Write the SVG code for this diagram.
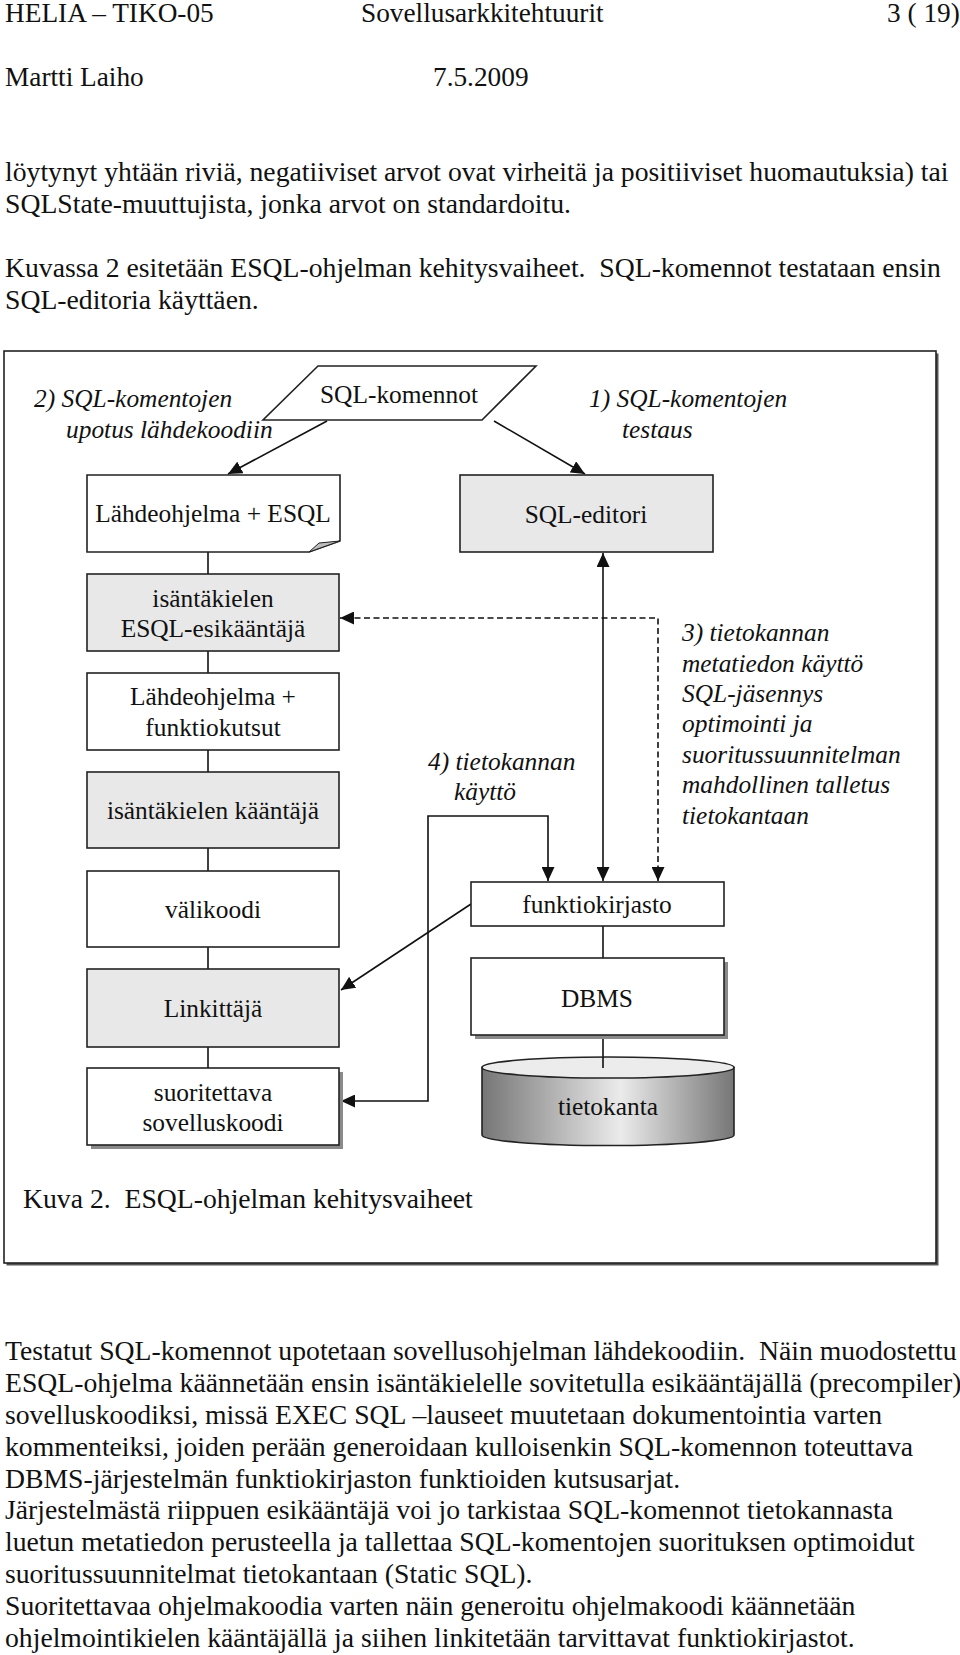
<svg xmlns="http://www.w3.org/2000/svg" width="960" height="1655" viewBox="0 0 960 1655">
<style>
.t{font-family:"Liberation Serif","Times New Roman",serif;font-size:27.3px;fill:#111}
.b{font-family:"Liberation Serif","Times New Roman",serif;font-size:27.7px;fill:#111}
.d{font-family:"Liberation Serif","Times New Roman",serif;font-size:25.4px;fill:#111}
.di{font-family:"Liberation Serif","Times New Roman",serif;font-size:25.4px;font-style:italic;fill:#111}
.c{text-anchor:middle}
.box{stroke:#222;stroke-width:1.6}
.w{fill:#fff}
.g{fill:#e8e8e8}
.sh{fill:#8a8a8a}
.ln{fill:none;stroke:#111;stroke-width:1.6}
.dash{fill:none;stroke:#111;stroke-width:1.6;stroke-dasharray:6 3.5}
</style>
<defs>
<marker id="ah" markerUnits="userSpaceOnUse" markerWidth="15" markerHeight="13" refX="14" refY="6.5" orient="auto-start-reverse">
<path d="M0,0 L14,6.5 L0,13 Z" fill="#111"/>
</marker>
<linearGradient id="cyl" x1="0" y1="0" x2="1" y2="0">
<stop offset="0" stop-color="#767676"/>
<stop offset="0.55" stop-color="#ebebeb"/>
<stop offset="1" stop-color="#767676"/>
</linearGradient>
</defs>
<rect width="960" height="1655" fill="#fff"/>

<g id="page-text">
<text class="t" x="5" y="22">HELIA – TIKO-05</text>
<text class="t" x="361" y="22">Sovellusarkkitehtuurit</text>
<text class="t" x="887" y="22">3 ( 19)</text>
<text class="t" x="5" y="86">Martti Laiho</text>
<text class="t" x="433" y="86">7.5.2009</text>
<text class="b" x="5" y="181">löytynyt yhtään riviä, negatiiviset arvot ovat virheitä ja positiiviset huomautuksia) tai</text>
<text class="b" x="5" y="213">SQLState-muuttujista, jonka arvot on standardoitu.</text>
<text class="b" x="5" y="277" xml:space="preserve">Kuvassa 2 esitetään ESQL-ohjelman kehitysvaiheet.  SQL-komennot testataan ensin</text>
<text class="b" x="5" y="309">SQL-editoria käyttäen.</text>
<text class="b" x="5" y="1360" xml:space="preserve">Testatut SQL-komennot upotetaan sovellusohjelman lähdekoodiin.  Näin muodostettu</text>
<text class="b" x="5" y="1392">ESQL-ohjelma käännetään ensin isäntäkielelle sovitetulla esikääntäjällä (precompiler)</text>
<text class="b" x="5" y="1424">sovelluskoodiksi, missä EXEC SQL –lauseet muutetaan dokumentointia varten</text>
<text class="b" x="5" y="1456">kommenteiksi, joiden perään generoidaan kulloisenkin SQL-komennon toteuttava</text>
<text class="b" x="5" y="1488">DBMS-järjestelmän funktiokirjaston funktioiden kutsusarjat.</text>
<text class="b" x="5" y="1519">Järjestelmästä riippuen esikääntäjä voi jo tarkistaa SQL-komennot tietokannasta</text>
<text class="b" x="5" y="1551">luetun metatiedon perusteella ja tallettaa SQL-komentojen suorituksen optimoidut</text>
<text class="b" x="5" y="1583">suoritussuunnitelmat tietokantaan (Static SQL).</text>
<text class="b" x="5" y="1615">Suoritettavaa ohjelmakoodia varten näin generoitu ohjelmakoodi käännetään</text>
<text class="b" x="5" y="1647">ohjelmointikielen kääntäjällä ja siihen linkitetään tarvittavat funktiokirjastot.</text>
</g>

<g id="frame">
<rect x="6.5" y="353.5" width="932" height="912" fill="#555"/>
<rect x="4" y="351" width="932" height="912" fill="#fff" stroke="#222" stroke-width="1.6"/>
<text class="b" x="23" y="1208" xml:space="preserve">Kuva 2.  ESQL-ohjelman kehitysvaiheet</text>
</g>

<g id="labels">
<text class="di" x="34" y="407">2) SQL-komentojen</text>
<text class="di" x="66" y="438">upotus lähdekoodiin</text>
<text class="di" x="589" y="407">1) SQL-komentojen</text>
<text class="di" x="622" y="438">testaus</text>
<text class="di" x="428" y="770">4) tietokannan</text>
<text class="di" x="454" y="800">käyttö</text>
<text class="di" x="682" y="641">3) tietokannan</text>
<text class="di" x="682" y="672">metatiedon käyttö</text>
<text class="di" x="682" y="702">SQL-jäsennys</text>
<text class="di" x="682" y="732">optimointi ja</text>
<text class="di" x="682" y="763">suoritussuunnitelman</text>
<text class="di" x="682" y="793">mahdollinen talletus</text>
<text class="di" x="682" y="824">tietokantaan</text>
</g>

<g id="connectors">
<line class="ln" x1="327" y1="421" x2="228" y2="474" marker-end="url(#ah)"/>
<line class="ln" x1="494" y1="421" x2="585" y2="474" marker-end="url(#ah)"/>
<line class="ln" x1="208" y1="552" x2="208" y2="574"/>
<line class="ln" x1="208" y1="651" x2="208" y2="673"/>
<line class="ln" x1="208" y1="750" x2="208" y2="772"/>
<line class="ln" x1="208" y1="848" x2="208" y2="871"/>
<line class="ln" x1="208" y1="947" x2="208" y2="969"/>
<line class="ln" x1="208" y1="1047" x2="208" y2="1068"/>
<line class="ln" x1="603" y1="553" x2="603" y2="881" marker-start="url(#ah)" marker-end="url(#ah)"/>
<path class="dash" d="M658,881 V618 H340" marker-start="url(#ah)" marker-end="url(#ah)"/>
<path class="ln" d="M341,1101 H428 V816 H548 V881" marker-start="url(#ah)" marker-end="url(#ah)"/>
<line class="ln" x1="471" y1="904" x2="341" y2="990" marker-end="url(#ah)"/>
<line class="ln" x1="603" y1="926" x2="603" y2="958"/>
<line class="ln" x1="603" y1="1035" x2="603" y2="1062"/>
</g>

<g id="sql-komennot">
<polygon class="box w" points="318,366 536,366 482,420 263,420"/>
<text class="d c" x="399" y="403">SQL-komennot</text>
</g>

<g id="lahdeohjelma-esql">
<path class="box w" d="M87,475 H340 V541 L309,552 H87 Z"/>
<path d="M309,552 L340,541 L319,543 Z" fill="#bbb" stroke="#222" stroke-width="1"/>
<text class="d c" x="213" y="522">Lähdeohjelma + ESQL</text>
</g>

<g id="sql-editori">
<rect class="box g" x="460" y="475" width="253" height="77"/>
<text class="d c" x="586" y="523">SQL-editori</text>
</g>

<g id="esikaantaja">
<rect class="box g" x="87" y="574" width="252" height="77"/>
<text class="d c" x="213" y="607">isäntäkielen</text>
<text class="d c" x="213" y="637">ESQL-esikääntäjä</text>
</g>

<g id="lahdeohjelma-funktiokutsut">
<rect class="box w" x="87" y="673" width="252" height="77"/>
<text class="d c" x="213" y="705">Lähdeohjelma +</text>
<text class="d c" x="213" y="736">funktiokutsut</text>
</g>

<g id="kaantaja">
<rect class="box g" x="87" y="772" width="252" height="76"/>
<text class="d c" x="213" y="819">isäntäkielen kääntäjä</text>
</g>

<g id="valikoodi">
<rect class="box w" x="87" y="871" width="252" height="76"/>
<text class="d c" x="213" y="918">välikoodi</text>
</g>

<g id="linkittaja">
<rect class="box g" x="87" y="969" width="252" height="78"/>
<text class="d c" x="213" y="1017">Linkittäjä</text>
</g>

<g id="suoritettava">
<rect class="sh" x="91" y="1072" width="252" height="77"/>
<rect class="box w" x="87" y="1068" width="252" height="77"/>
<text class="d c" x="213" y="1101">suoritettava</text>
<text class="d c" x="213" y="1131">sovelluskoodi</text>
</g>

<g id="funktiokirjasto">
<rect class="box w" x="471" y="882" width="253" height="44"/>
<text class="d c" x="597" y="913">funktiokirjasto</text>
</g>

<g id="dbms">
<rect class="sh" x="475" y="962" width="253" height="77"/>
<rect class="box w" x="471" y="958" width="253" height="77"/>
<text class="d c" x="597" y="1007">DBMS</text>
</g>

<g id="tietokanta">
<path d="M482,1067.5 V1135 A126,10.5 0 0 0 734,1135 V1067.5 Z" fill="url(#cyl)" stroke="#222" stroke-width="1.6"/>
<ellipse cx="608" cy="1067.5" rx="126" ry="10.5" fill="#ececec" stroke="#222" stroke-width="1.6"/>
<line class="ln" x1="603" y1="1057" x2="603" y2="1068"/>
<text class="d c" x="608" y="1115">tietokanta</text>
</g>
</svg>
